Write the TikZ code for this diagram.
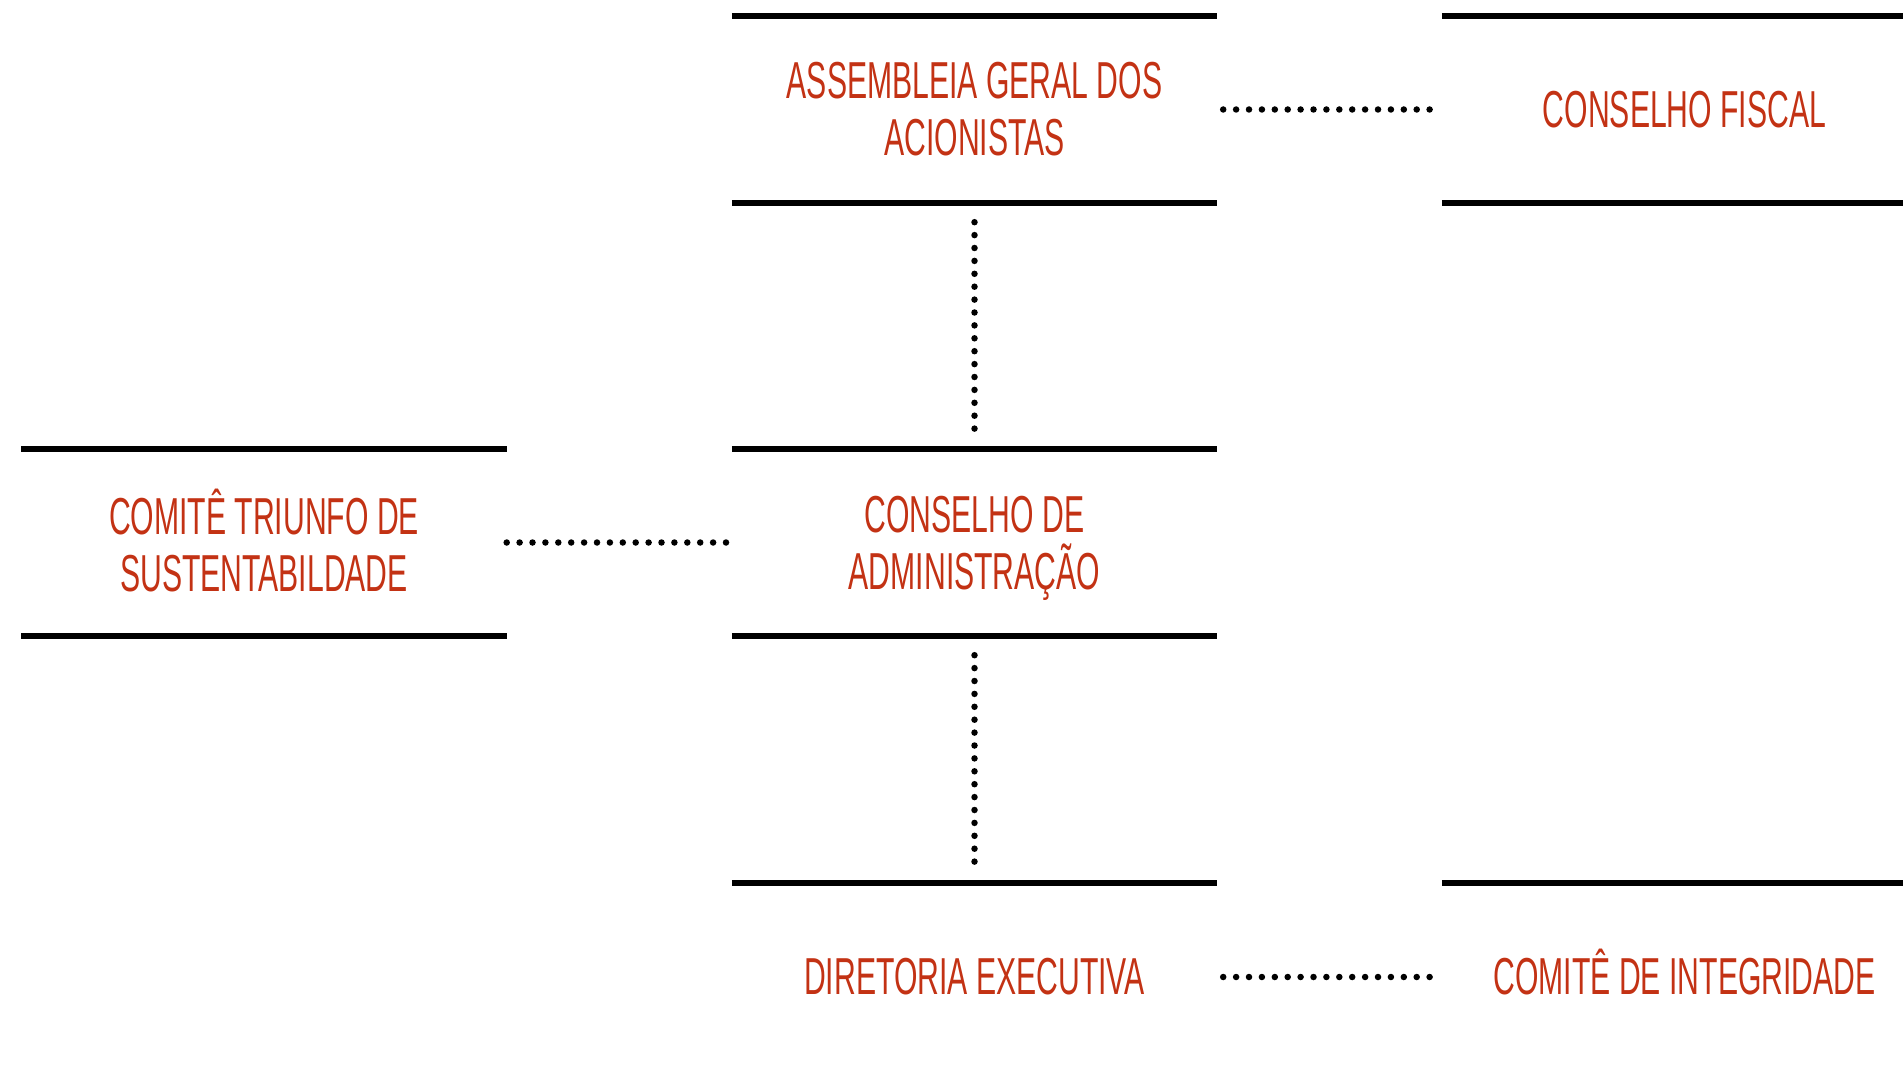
\documentclass[tikz,border=0pt]{standalone}
\usepackage{fontspec}
\newfontfamily\orgfont[FakeStretch=0.58]{Liberation Sans}
\definecolor{ferrugem}{RGB}{195,50,20}
\begin{document}
\begin{tikzpicture}[x=1pt,y=-1pt,
	caixa/.style={minimum width=485pt,minimum height=187pt,inner sep=0pt,align=center,
		text=ferrugem,font=\orgfont\fontsize{52}{57}\selectfont},
	linha/.style={line width=6pt},
	pontos/.style={line width=6.5pt,line cap=round,dash pattern=on 0pt off 12.9pt}]
	\useasboundingbox (0,0) rectangle (1903,1067);
	\clip (0,0) rectangle (1903,1067);
	% orgaos
	\node[caixa] (agd) at (974.5,109.5) {ASSEMBLEIA GERAL DOS\\ACIONISTAS};
	\node[caixa] (cf) at (1684.5,109.5) {CONSELHO FISCAL};
	\node[caixa] (cts) at (264,542.5) {\raisebox{0pt}[0.78em][0pt]{COMITÊ TRIUNFO DE}\\SUSTENTABILDADE};
	\node[caixa] (cda) at (974.5,542.5) {CONSELHO DE\\\raisebox{0pt}[\height][0pt]{ADMINISTRAÇÃO}};
	\node[caixa] (de) at (974.5,977) {DIRETORIA EXECUTIVA};
	\node[caixa] (ci) at (1684.5,977) {\raisebox{0pt}[0.69em][0pt]{COMITÊ DE INTEGRIDADE}};
	\foreach \n in {agd,cf,cts,cda,de,ci}
		\draw[linha] (\n.north west) -- (\n.north east) (\n.south west) -- (\n.south east);
	% ligacoes
	\draw[pontos,shorten <=6pt] (agd.east) -- (cf.west);
	\draw[pontos,shorten <=19pt,shorten >=20pt] (agd.south) -- (cda.north);
	\draw[pontos] (cts.east) -- (cda.west);
	\draw[pontos,shorten <=19pt,shorten >=19pt] (cda.south) -- (de.north);
	\draw[pontos,shorten <=6pt] (de.east) -- (ci.west);
\end{tikzpicture}
\end{document}
